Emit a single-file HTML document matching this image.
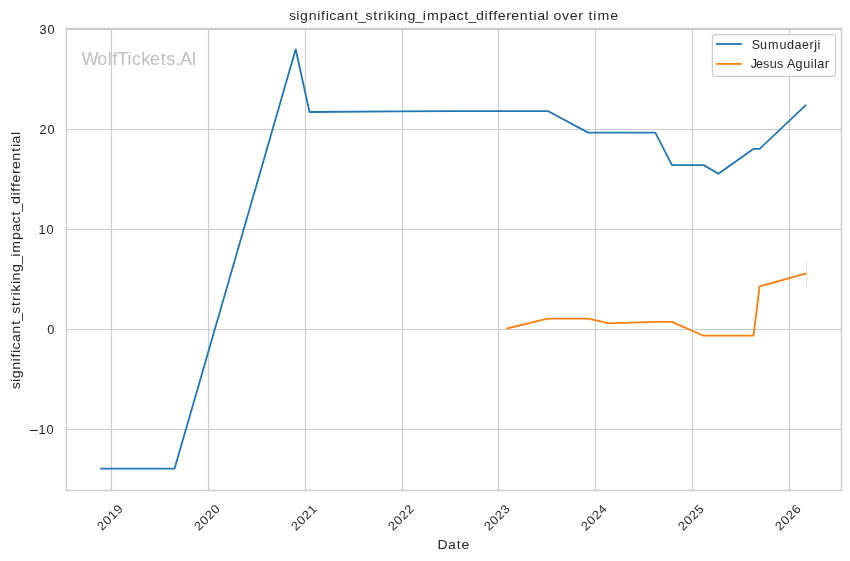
<!DOCTYPE html>
<html><head><meta charset="utf-8"><title>significant_striking_impact_differential over time</title>
<style>
html,body{margin:0;padding:0;background:#ffffff;width:850px;height:561px;overflow:hidden;}
svg{display:block;will-change:transform;font-family:"Liberation Sans", sans-serif;font-kerning:none;font-variant-ligatures:none;font-feature-settings:"liga" 0,"kern" 0;}
</style></head><body>
<svg width="850" height="561" viewBox="0 0 850 561">
<rect x="0" y="0" width="850" height="561" fill="#ffffff"/>
<g stroke="#cccccc" stroke-width="1.2" fill="none">
<line x1="111.50" y1="28.5" x2="111.50" y2="490.5"/>
<line x1="208.50" y1="28.5" x2="208.50" y2="490.5"/>
<line x1="305.50" y1="28.5" x2="305.50" y2="490.5"/>
<line x1="402.50" y1="28.5" x2="402.50" y2="490.5"/>
<line x1="498.50" y1="28.5" x2="498.50" y2="490.5"/>
<line x1="595.50" y1="28.5" x2="595.50" y2="490.5"/>
<line x1="692.50" y1="28.5" x2="692.50" y2="490.5"/>
<line x1="789.50" y1="28.5" x2="789.50" y2="490.5"/>
<line x1="66.5" y1="29.50" x2="841.5" y2="29.50"/>
<line x1="66.5" y1="129.50" x2="841.5" y2="129.50"/>
<line x1="66.5" y1="229.50" x2="841.5" y2="229.50"/>
<line x1="66.5" y1="329.50" x2="841.5" y2="329.50"/>
<line x1="66.5" y1="429.50" x2="841.5" y2="429.50"/>
</g>
<text transform="translate(81.95,64.50) scale(1.03,1)" font-size="17.49" fill="#bfbfbf" x="-0.33 14.91 24.95 29.51 34.31 44.34 48.54 57.58 66.05 76.55 81.93 90.59 95.21 106.45" y="0">WolfTickets.AI</text>
<line x1="806.5" y1="260.4" x2="806.5" y2="287.3" stroke="#ff7f0e" stroke-opacity="0.24" stroke-width="1.0"/>
<polyline points="101.10,468.60 174.60,468.60 295.70,49.30 309.50,112.00 397.00,111.37 452.00,111.13 547.80,111.05 588.20,132.60 655.30,132.70 672.00,165.10 703.60,165.10 718.40,173.80 753.70,148.80 759.70,148.80 805.40,105.50" fill="none" stroke="#1f77b4" stroke-width="1.8" stroke-linejoin="round" stroke-linecap="square"/>
<polyline points="507.40,328.40 547.60,318.60 588.40,318.70 608.80,323.40 654.70,321.90 671.90,321.90 703.50,335.70 753.50,335.70 759.60,286.40 805.60,273.60" fill="none" stroke="#ff7f0e" stroke-width="1.8" stroke-linejoin="round" stroke-linecap="square"/>
<rect x="66.5" y="28.5" width="775.00" height="462.00" fill="none" stroke="#cccccc" stroke-width="1.45"/>
<text transform="translate(39.29,33.90) scale(1.05,1)" font-size="12.20" fill="#262626" x="0.32 7.74" y="0">30</text>
<text transform="translate(39.29,133.90) scale(1.05,1)" font-size="12.20" fill="#262626" x="0.32 7.74" y="0">20</text>
<text transform="translate(38.29,233.90) scale(1.05,1)" font-size="12.20" fill="#262626" x="0.32 7.74" y="0">10</text>
<text transform="translate(47.05,333.90) scale(1.05,1)" font-size="12.20" fill="#262626" x="0.32" y="0">0</text>
<text transform="translate(38.29,433.90) scale(1.05,1)" font-size="12.20" fill="#262626" x="0.32 7.74" y="0">10</text>
<rect x="29.9" y="429.95" width="8.0" height="1.05" fill="#262626"/>
<text transform="translate(101.80,531.50) rotate(-45) scale(1.05,1)" font-size="12.20" fill="#262626" x="0.32 7.74 15.16 22.59" y="0">2019</text>
<text transform="translate(198.80,531.50) rotate(-45) scale(1.05,1)" font-size="12.20" fill="#262626" x="0.32 7.74 15.16 22.59" y="0">2020</text>
<text transform="translate(295.80,531.50) rotate(-45) scale(1.05,1)" font-size="12.20" fill="#262626" x="0.32 7.74 15.16 22.59" y="0">2021</text>
<text transform="translate(392.80,531.50) rotate(-45) scale(1.05,1)" font-size="12.20" fill="#262626" x="0.32 7.74 15.16 22.59" y="0">2022</text>
<text transform="translate(488.80,531.50) rotate(-45) scale(1.05,1)" font-size="12.20" fill="#262626" x="0.32 7.74 15.16 22.59" y="0">2023</text>
<text transform="translate(585.80,531.50) rotate(-45) scale(1.05,1)" font-size="12.20" fill="#262626" x="0.32 7.74 15.16 22.59" y="0">2024</text>
<text transform="translate(682.80,531.50) rotate(-45) scale(1.05,1)" font-size="12.20" fill="#262626" x="0.32 7.74 15.16 22.59" y="0">2025</text>
<text transform="translate(779.80,531.50) rotate(-45) scale(1.05,1)" font-size="12.20" fill="#262626" x="0.32 7.74 15.16 22.59" y="0">2026</text>
<text transform="translate(288.97,19.80) scale(1.05,1)" font-size="13.48" fill="#262626" x="-0.02 6.99 10.60 18.76 26.87 30.54 34.97 38.42 45.51 53.52 62.00 65.85 72.80 80.16 84.96 90.13 93.77 101.15 104.76 112.91 120.21 127.46 131.39 143.60 151.62 159.47 167.02 170.88 178.18 186.30 189.97 194.50 198.84 206.94 211.80 219.83 228.30 232.98 236.45 244.43 247.88 251.99 260.10 267.48 275.58 280.64 285.21 289.89 293.82 305.90" y="0">significant_striking_impact_differential over time</text>
<text transform="translate(437.49,548.90) scale(1.05,1)" font-size="13.33" fill="#262626" x="0.09 10.00 18.26 22.82" y="0">Date</text>
<text transform="translate(20.00,389.33) rotate(-90) scale(1.05,1)" font-size="13.43" fill="#262626" x="-0.04 6.91 10.48 18.56 26.61 30.25 34.64 38.04 45.07 53.01 61.41 65.22 72.10 79.41 84.16 89.29 92.88 100.20 103.77 111.85 119.07 126.27 130.14 142.25 150.20 157.98 165.47 169.28 176.51 184.56 188.20 192.69 196.98 205.01 209.81 217.77 226.17 230.81 234.24 242.16" y="0">significant_striking_impact_differential</text>
<rect x="712.45" y="34.6" width="123.15" height="41.7" rx="2.2" ry="2.2" fill="#ffffff" fill-opacity="0.8" stroke="#cccccc" stroke-width="1.2"/>
<line x1="716.0" y1="44.0" x2="741.85" y2="44.0" stroke="#1f77b4" stroke-width="1.8" stroke-linecap="butt"/>
<line x1="716.0" y1="63.9" x2="741.85" y2="63.9" stroke="#ff7f0e" stroke-width="1.8" stroke-linecap="butt"/>
<text transform="translate(752.21,48.80) scale(1.05,1)" font-size="12.00" fill="#262626" x="-0.37 7.54 15.07 25.92 33.16 40.29 47.31 54.51 59.12 62.29" y="0">Sumudaerji</text>
<text transform="translate(752.21,67.70) scale(1.05,1)" font-size="12.00" fill="#262626" x="-1.31 3.55 10.38 16.64 23.58 29.70 33.09 41.29 48.54 55.76 58.93 62.02 69.21" y="0">Jesus Aguilar</text>
</svg>
</body></html>
